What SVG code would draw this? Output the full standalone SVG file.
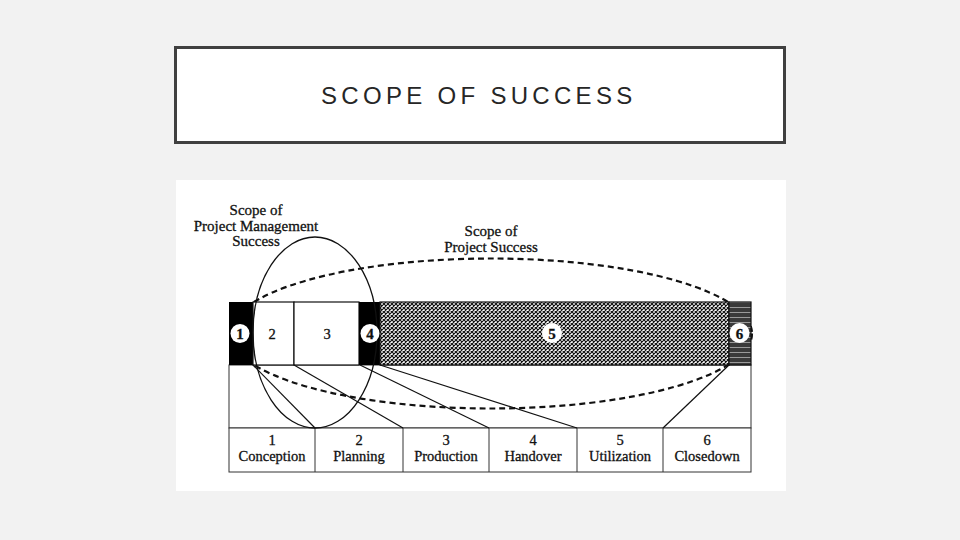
<svg xmlns="http://www.w3.org/2000/svg" width="960" height="540" viewBox="0 0 960 540">
  <defs>
    <pattern id="hatch" patternUnits="userSpaceOnUse" width="4" height="4">
      <rect width="4" height="4" fill="#fff"/>
      <path d="M0,0 L4,4 M4,0 L0,4" stroke="#111" stroke-width="1.2"/>
    </pattern>
    <pattern id="streak" patternUnits="userSpaceOnUse" width="22" height="5">
      <rect width="22" height="5" fill="#3a3a3a"/>
      <path d="M0,2.5 H22" stroke="#9a9a9a" stroke-width="1"/>
    </pattern>
    <style>
      .serif { font-family: "Liberation Serif", "Times New Roman", serif; fill: #111; stroke: #111; stroke-width: 0.3; }
      .lbl { font-size: 14.5px; text-anchor: middle; }
      .top { font-size: 15px; text-anchor: middle; }
      .num { font-size: 15px; font-weight: bold; text-anchor: middle; }
      .cell { stroke: #111; stroke-width: 1.2; }
      .fan { stroke: #111; stroke-width: 1.2; fill: none; }
      .grid { fill: #fff; stroke: #333; stroke-width: 1; }
    </style>
  </defs>

  <rect width="960" height="540" fill="#f2f2f2"/>

  <g id="title">
    <rect x="175.5" y="47.5" width="609" height="95" fill="#fff" stroke="#404040" stroke-width="3"/>
    <text x="321" y="104" font-family="Liberation Sans, Arial, sans-serif" font-size="24" letter-spacing="4.3" fill="#262626">SCOPE OF SUCCESS</text>
  </g>

  <rect x="176" y="180" width="610" height="311" fill="#fff"/>

  <g id="phase-row">
    <rect class="grid" x="229" y="365" width="522" height="63"/>
    <rect class="grid" x="229" y="428" width="522" height="44"/>
    <path d="M315,428 V472 M403,428 V472 M489,428 V472 M577,428 V472 M663,428 V472" stroke="#333" stroke-width="1"/>
  </g>

  <g id="scope-project-success">
    <ellipse cx="491" cy="333.5" rx="261" ry="75" fill="none" stroke="#111" stroke-width="2.2" stroke-dasharray="6 4"/>
    <text class="serif top" x="491" y="236">Scope of</text>
    <text class="serif top" x="491" y="252">Project Success</text>
  </g>

  <g id="bar">
    <rect x="229" y="302" width="24" height="63" fill="#000"/>
    <rect x="253" y="302" width="41" height="63" fill="#fff" class="cell"/>
    <rect x="294" y="302" width="65" height="63" fill="#fff" class="cell"/>
    <rect x="359" y="302" width="21" height="63" fill="#000"/>
    <rect x="380" y="302" width="349" height="63" fill="url(#hatch)" class="cell"/>
    <rect x="729" y="302" width="22" height="63" fill="url(#streak)" class="cell"/>
  </g>

  <g id="connectors">
    <line class="fan" x1="253" y1="365" x2="315" y2="428"/>
    <line class="fan" x1="294" y1="365" x2="403" y2="428"/>
    <line class="fan" x1="360" y1="365" x2="489" y2="428"/>
    <line class="fan" x1="380" y1="365" x2="577" y2="428"/>
    <line class="fan" x1="729" y1="365" x2="663" y2="428"/>
  </g>

  <g id="scope-pm-success">
    <ellipse cx="315" cy="332.5" rx="62" ry="95.5" fill="none" stroke="#111" stroke-width="1.3"/>
    <text class="serif top" x="256" y="215">Scope of</text>
    <text class="serif top" x="256" y="231">Project Management</text>
    <text class="serif top" x="256" y="246">Success</text>
  </g>

  <g id="bar-labels">
    <circle cx="240" cy="333.5" r="9.5" fill="#fff"/>
    <text class="serif num" x="240" y="339">1</text>
    <text class="serif lbl" x="272" y="338.5">2</text>
    <text class="serif lbl" x="327" y="338.5">3</text>
    <circle cx="370" cy="333.5" r="9.5" fill="#fff"/>
    <text class="serif num" x="370" y="339">4</text>
    <circle cx="552" cy="333" r="10" fill="#fff"/>
    <text class="serif num" x="552" y="338.5">5</text>
    <circle cx="739.5" cy="333" r="10" fill="#fff"/>
    <text class="serif num" x="739.5" y="338.5">6</text>
  </g>

  <g id="phase-labels">
    <g id="p1"><text class="serif lbl" x="272" y="445">1</text><text class="serif lbl" x="272" y="461">Conception</text></g>
    <g id="p2"><text class="serif lbl" x="359" y="445">2</text><text class="serif lbl" x="359" y="461">Planning</text></g>
    <g id="p3"><text class="serif lbl" x="446" y="445">3</text><text class="serif lbl" x="446" y="461">Production</text></g>
    <g id="p4"><text class="serif lbl" x="533" y="445">4</text><text class="serif lbl" x="533" y="461">Handover</text></g>
    <g id="p5"><text class="serif lbl" x="620" y="445">5</text><text class="serif lbl" x="620" y="461">Utilization</text></g>
    <g id="p6"><text class="serif lbl" x="707" y="445">6</text><text class="serif lbl" x="707" y="461">Closedown</text></g>
  </g>
</svg>
